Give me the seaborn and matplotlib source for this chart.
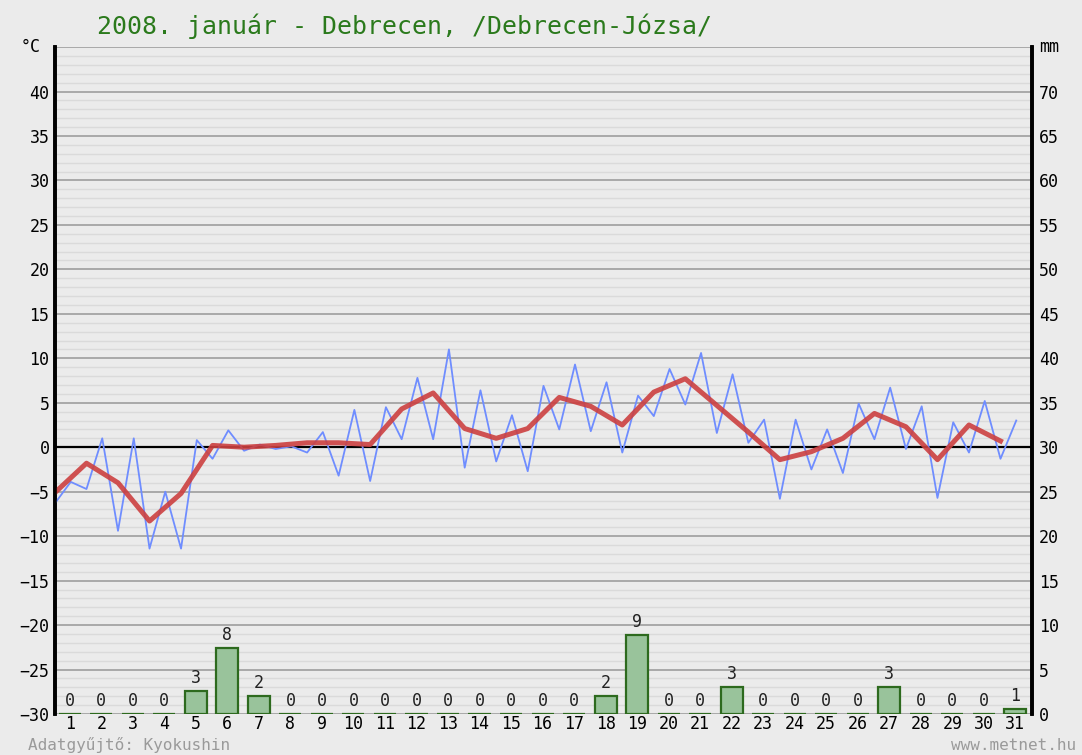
import numpy as np
import pandas as pd
import seaborn as sns
import matplotlib.pyplot as plt

# --- data ---
days = list(range(1, 32))

# daily mean temperature (°C), plotted at the start of each day
mean_temp = [-5.1, -1.8, -4.0, -8.3, -5.2, 0.2, 0.0, 0.2, 0.5, 0.5,
             0.3, 4.3, 6.1, 2.1, 1.0, 2.1, 5.6, 4.6, 2.5, 6.2,
             7.7, 4.7, 1.7, -1.4, -0.5, 1.0, 3.8, 2.3, -1.4, 2.5, 0.7]

# min / max readings, two per day (°C)
minmax_temp = [-6.3, -3.9, -4.7, 1.0, -9.4, 1.0, -11.4, -5.0, -11.4, 0.8,
               -1.3, 1.9, -0.4, 0.3, -0.2, 0.1, -0.6, 1.7, -3.2, 4.2,
               -3.8, 4.5, 0.9, 7.8, 0.9, 11.0, -2.3, 6.4, -1.6, 3.6,
               -2.7, 6.9, 2.0, 9.3, 1.8, 7.3, -0.6, 5.8, 3.5, 8.8,
               4.8, 10.6, 1.6, 8.2, 0.5, 3.1, -5.8, 3.1, -2.5, 2.0,
               -2.9, 4.9, 0.9, 6.7, -0.2, 4.6, -5.7, 2.8, -0.6, 5.2,
               -1.3, 3.0]

# precipitation (mm): bar heights and the printed labels
precip = [0, 0, 0, 0, 2.6, 7.4, 2.0, 0, 0, 0,
          0, 0, 0, 0, 0, 0, 0, 2.0, 8.9, 0,
          0, 3.0, 0, 0, 0, 0, 3.0, 0, 0, 0, 0.6]
precip_labels = [0, 0, 0, 0, 3, 8, 2, 0, 0, 0,
                 0, 0, 0, 0, 0, 0, 0, 2, 9, 0,
                 0, 3, 0, 0, 0, 0, 3, 0, 0, 0, 1]

temp_ticks = list(range(-30, 41, 5))
mm_ticks = list(range(0, 71, 5))

title = "2008. január - Debrecen, /Debrecen-Józsa/"
BG = "#ebebeb"
MONO = ["DejaVu Sans Mono"]

plt.rcParams['font.family'] = MONO

mean_df = pd.DataFrame({"x": np.array(days) - 1, "t": mean_temp})
mm_df = pd.DataFrame({"x": np.arange(len(minmax_temp)) / 2, "t": minmax_temp})
rain_df = pd.DataFrame({"x": np.array(days) - 1 + 0.47, "mm": precip})

fig = plt.figure(figsize=(10.82, 7.55), dpi=100, facecolor=BG)
ax = fig.add_axes([0.0508, 0.0543, 0.9030, 0.8834])
ax.set_facecolor(BG)

# horizontal grid: light line each degree, darker each 5 degrees
for v in range(-30, 46):
    if v % 5:
        ax.axhline(v, color="#dadada", lw=1.0, zorder=0)
    else:
        ax.axhline(v, color="#a3a3a3", lw=1.3, zorder=0)
ax.axhline(0, color="black", lw=1.6, zorder=1)

sns.lineplot(data=mm_df, x="x", y="t", ax=ax, color="#6f8dff", lw=1.3, zorder=3)
sns.lineplot(data=mean_df, x="x", y="t", ax=ax, color="#cc4040", lw=3.6,
             alpha=0.9, zorder=4)

ax.set_xlim(0, 31)
ax.set_ylim(-30, 45)
ax.set_yticks(temp_ticks)
ax.set_yticklabels([f"{t}".replace("-", "−") for t in temp_ticks], fontsize=12)
ax.set_xticks(rain_df["x"])
ax.set_xticklabels([str(d) for d in days], fontsize=12)
ax.tick_params(axis="y", length=0, pad=4)
ax.tick_params(axis="x", length=0, pad=1)
ax.set_xlabel("")
ax.set_ylabel("")

# precipitation on a twin axis (0 mm == -30 °C)
ax2 = ax.twinx()
sns.barplot(data=rain_df, x="x", y="mm", ax=ax2, native_scale=True,
            width=0.7, color="#99c39b", saturation=1, edgecolor="#2d6a1e",
            linewidth=1.6, errorbar=None, zorder=5)
for x, h, lab in zip(rain_df["x"], precip, precip_labels):
    ax2.text(x, h + 0.45, str(lab), ha="center", va="bottom", fontsize=12,
             color="#222222", zorder=6)
ax2.set_ylim(0, 75)
ax2.set_xlim(0, 31)
ax2.set_yticks(mm_ticks)
ax2.set_yticklabels([str(m) for m in mm_ticks], fontsize=12)
ax2.tick_params(axis="y", length=0, pad=5)
ax2.set_ylabel("")
ax2.set_xlabel("")

for a in (ax, ax2):
    a.spines["left"].set_color("black")
    a.spines["left"].set_linewidth(2.6)
    a.spines["right"].set_color("black")
    a.spines["right"].set_linewidth(2.6)
    a.spines["top"].set_visible(False)
    a.spines["bottom"].set_visible(False)

fig.text(0.0375, 0.938, "°C", fontsize=12, ha="right", va="center")
fig.text(0.960, 0.938, "mm", fontsize=12, ha="left", va="center")
fig.text(0.0895, 0.965, title, fontsize=17.9, color="#2b7a1c",
         ha="left", va="center")
fig.text(0.026, 0.013, "Adatgyűjtő: Kyokushin", fontsize=11.5, color="#9a9a9a",
         ha="left", va="center")
fig.text(0.995, 0.013, "www.metnet.hu", fontsize=11.5, color="#9a9a9a",
         ha="right", va="center")

fig.savefig("out.png", dpi=100, facecolor=BG)
